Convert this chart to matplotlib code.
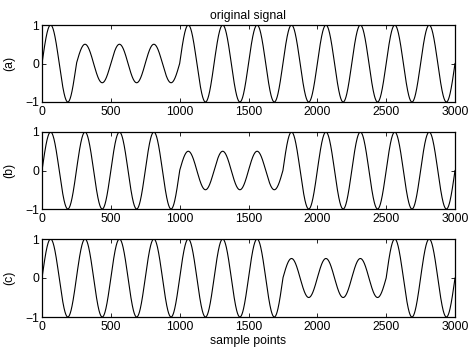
import numpy as np
import matplotlib
matplotlib.use("Agg")
import matplotlib.pyplot as plt

plt.rcParams['font.family'] = ['Liberation Sans', 'DejaVu Sans']

# signal: sine of period 250 samples,
# full amplitude except one 750-sample stretch at half amplitude
n_samples = 3000
period = 250
panel_labels = ["(a)", "(b)", "(c)"]
half_start = [250, 1000, 1750]
half_end = [1000, 1750, 2500]
half_amp = 0.5
full_amp = 1.0

x_ticks = [0, 500, 1000, 1500, 2000, 2500, 3000]
y_ticks = [-1, 0, 1]

fs = 8.8
fig = plt.figure(figsize=(4.68, 3.47), dpi=100)
W, H = 468, 347
# axes boxes in pixels: left, top, right, bottom
boxes = [(42, 25, 455, 102), (42, 132, 455, 209), (42, 239, 455, 317)]

n = np.arange(n_samples + 1)
for i, (l, t, r, b) in enumerate(boxes):
    ax = fig.add_axes([l / W, 1 - b / H, (r - l) / W, (b - t) / H])
    amp = np.where((n >= half_start[i]) & (n < half_end[i]), half_amp, full_amp)
    sig = amp * np.sin(2 * np.pi * n / period)
    ax.plot(n, sig, color='black', linewidth=0.8)
    ax.set_xlim(0, n_samples)
    ax.set_ylim(-1, 1)
    ax.set_xticks(x_ticks)
    ax.set_yticks(y_ticks)
    ax.tick_params(direction='in', top=True, right=True, length=3,
                   labelsize=fs, width=0.6)
    ax.tick_params(axis='x', pad=3)
    ax.tick_params(axis='y', pad=2)
    for s in ax.spines.values():
        s.set_linewidth(0.9)
    ax.set_ylabel(panel_labels[i], fontsize=fs, labelpad=7)
    if i == 0:
        ax.set_title("original signal", fontsize=fs, pad=4)
    if i == 2:
        ax.set_xlabel("sample points", fontsize=fs, labelpad=1)

fig.savefig("out.png", dpi=100)
